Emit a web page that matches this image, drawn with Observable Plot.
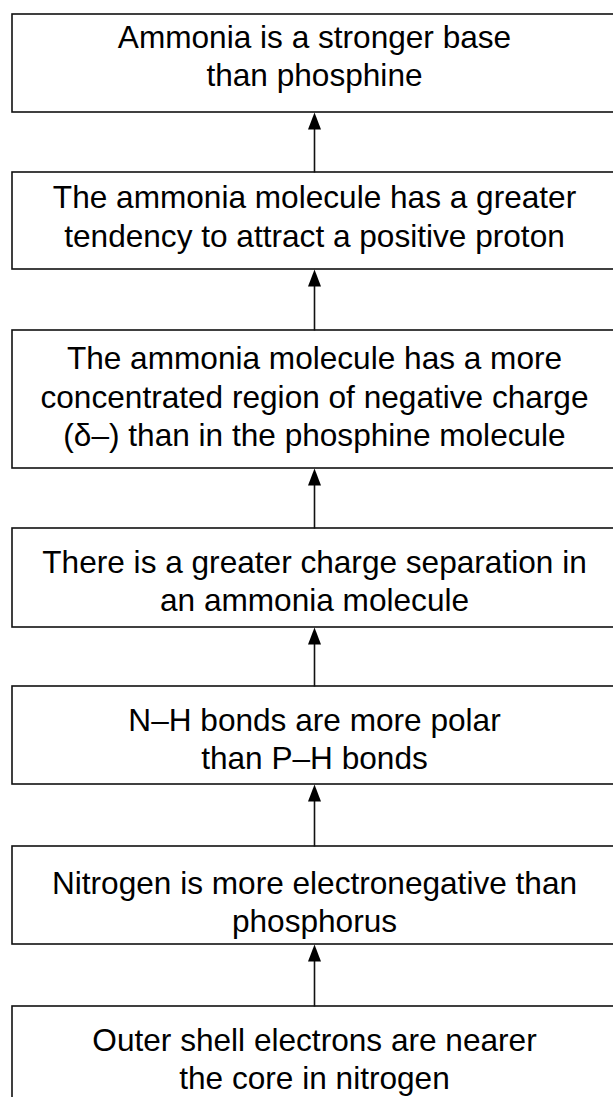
<!DOCTYPE html>
<html>
<head>
<meta charset="utf-8">
<script src="https://cdn.jsdelivr.net/npm/d3@7"></script>
<script src="https://cdn.jsdelivr.net/npm/@observablehq/plot@0.6"></script>
<style>
  html, body { margin: 0; padding: 0; background: #fff; }
  #chart svg { display: block; }
</style>
</head>
<body>
<div id="chart"></div>
<script>
// Steps of the reasoning chain, top (conclusion) to bottom (root cause)
const stepLabels = [
  "Ammonia is a stronger base\nthan phosphine",
  "The ammonia molecule has a greater\ntendency to attract a positive proton",
  "The ammonia molecule has a more\nconcentrated region of negative charge\n(δ–) than in the phosphine molecule",
  "There is a greater charge separation in\nan ammonia molecule",
  "N–H bonds are more polar\nthan P–H bonds",
  "Nitrogen is more electronegative than\nphosphorus",
  "Outer shell electrons are nearer\nthe core in nitrogen"
];
// Vertical extent of each step box in diagram units
const stepTop    = [14, 172, 330, 528, 686, 846, 1006];
const stepBottom = [112, 269, 468, 627, 784, 944, 1110];
const stepTextMid = [54, 214.5, 395, 579, 737, 900, 1057];

// Layout constants
const W = 613, H = 1097;
const boxLeft = 12, boxRight = 616, spineX = 314;
const headLen = 17, headHalf = 6.5;

const boxes = stepLabels.map((label, i) => ({
  label, top: stepTop[i], bottom: stepBottom[i], mid: stepTextMid[i]
}));
// arrows go from each box up to the one above it
const arrows = boxes.slice(1).map((b, i) => ({
  from: b.top, to: boxes[i].bottom
}));

const arrowHead = {
  draw(ctx) {
    ctx.moveTo(0, 0);
    ctx.lineTo(headHalf, headLen);
    ctx.lineTo(-headHalf, headLen);
    ctx.closePath();
  }
};

const chart = Plot.plot({
  width: W,
  height: H,
  margin: 0,
  style: { background: "#fff", overflow: "hidden" },
  x: { domain: [0, W], range: [0, W], axis: null },
  y: { domain: [0, H], range: [0, H], axis: null },
  marks: [
    Plot.rect(boxes, {
      x1: () => boxLeft, x2: () => boxRight,
      y1: "top", y2: "bottom",
      fill: "#fff", stroke: "#111", strokeWidth: 1.6
    }),
    Plot.link(arrows, {
      x1: () => spineX, x2: () => spineX,
      y1: "from", y2: d => d.to + headLen - 1,
      stroke: "#111", strokeWidth: 1.6
    }),
    Plot.dot(arrows, {
      x: () => spineX, y: "to",
      symbol: arrowHead, r: 5,
      fill: "#000", stroke: "none"
    }),
    Plot.text(boxes, {
      x: () => spineX, y: "mid",
      text: "label",
      textAnchor: "middle",
      lineAnchor: "middle",
      lineHeight: 1.22,
      fontSize: 31.6,
      fontFamily: "'Liberation Sans', Arial, sans-serif",
      fill: "#000"
    })
  ]
});
document.getElementById("chart").append(chart);
</script>
</body>
</html>
